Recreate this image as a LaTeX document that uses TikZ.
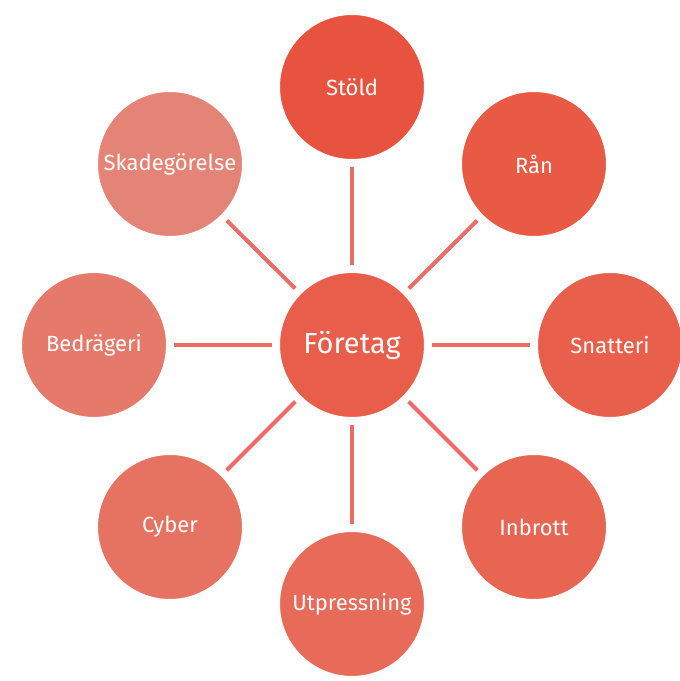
\documentclass[tikz,border=0pt]{standalone}
\usepackage{fontspec}
\setmainfont{Fira Sans}
\usetikzlibrary{shadows,backgrounds}

\definecolor{cStold}{HTML}{E8533F}
\definecolor{cRan}{HTML}{E85A43}
\definecolor{cSnatteri}{HTML}{E8604B}
\definecolor{cInbrott}{HTML}{E86551}
\definecolor{cUtpress}{HTML}{E86B5A}
\definecolor{cCyber}{HTML}{E67362}
\definecolor{cBedrag}{HTML}{E57A6A}
\definecolor{cSkade}{HTML}{E38476}
\definecolor{cForetag}{HTML}{E85E4B}
\definecolor{cLink}{HTML}{EB6D66}

\begin{document}
\begin{tikzpicture}[x=1pt, y=1pt]
		\useasboundingbox (0, 0) rectangle (680, 681);
		\tikzstyle{every node}=[align=center, inner sep=1pt]
		\tikzstyle{bubble}=[circle, draw=white, line width=8pt, minimum size=152pt, inner sep=0pt,
			text=white, font=\fontsize{22}{24}\selectfont,
			drop shadow={opacity=0.18, shadow xshift=2pt, shadow yshift=-3pt}]
		\tikzstyle{link}=[draw=cLink, line width=4pt]

				\node[bubble, fill=cForetag, font=\fontsize{29}{32}\selectfont] (F) at (352, 336) {Företag};
				\node[bubble, fill=cStold] (St) at (352, 594) {Stöld};
				\node[bubble, fill=cRan] (Ra) at (534, 517) {Rån};
				\node[bubble, fill=cSnatteri] (Sn) at (610, 336) {Snatteri};
				\node[bubble, fill=cInbrott] (In) at (534, 154) {Inbrott};
				\node[bubble, fill=cUtpress] (Ut) at (352, 77) {Utpressning};
				\node[bubble, fill=cCyber] (Cy) at (170, 154) {Cyber};
				\node[bubble, fill=cBedrag] (Be) at (94, 336) {Bedrägeri};
				\node[bubble, fill=cSkade] (Sk) at (170, 517) {Skadegörelse};

				\begin{scope}[on background layer]
				\draw[link]  (F.center) -- (St.center);
				\draw[link]  (F.center) -- (Ra.center);
				\draw[link]  (F.center) -- (Sn.center);
				\draw[link]  (F.center) -- (In.center);
				\draw[link]  (F.center) -- (Ut.center);
				\draw[link]  (F.center) -- (Cy.center);
				\draw[link]  (F.center) -- (Be.center);
				\draw[link]  (F.center) -- (Sk.center);
				\end{scope}
	\end{tikzpicture}
\end{document}
